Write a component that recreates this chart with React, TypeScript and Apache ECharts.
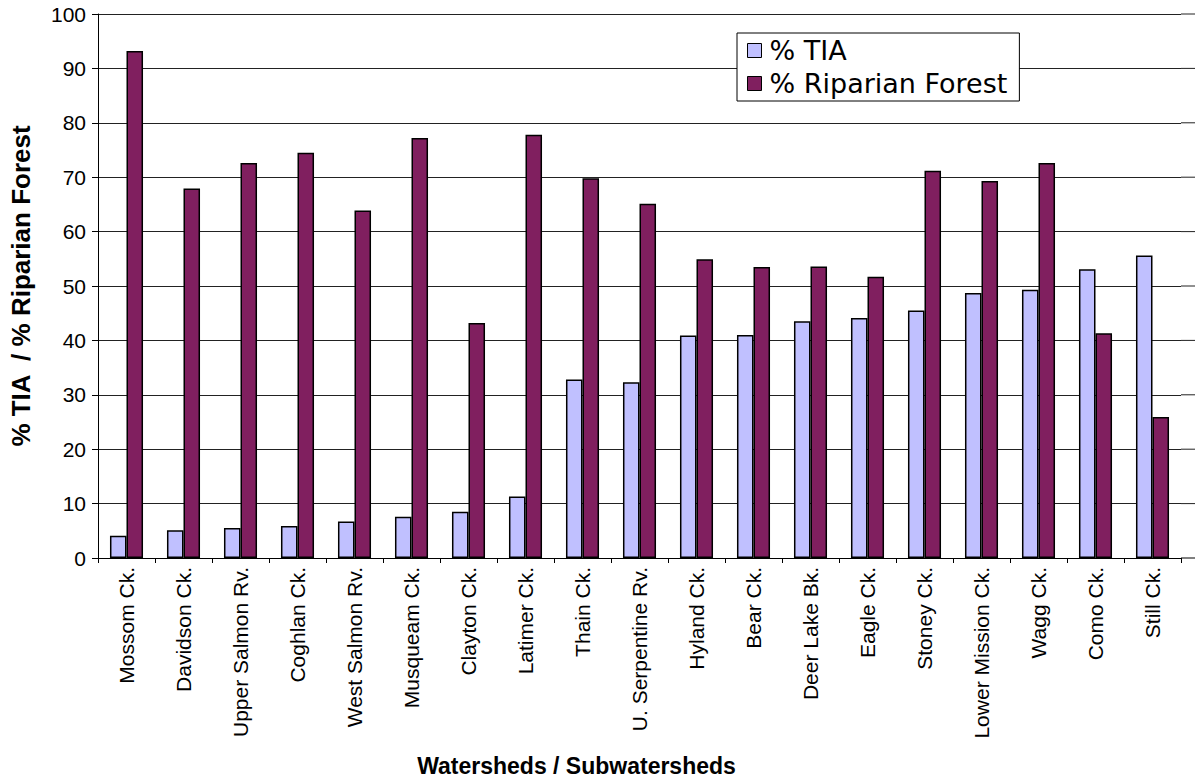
import React, { useEffect, useRef } from "react";
import * as echarts from "echarts";

// Watershed names along the category axis
const watersheds = [
  "Mossom Ck.",
  "Davidson Ck.",
  "Upper Salmon Rv.",
  "Coghlan Ck.",
  "West Salmon Rv.",
  "Musqueam Ck.",
  "Clayton Ck.",
  "Latimer Ck.",
  "Thain Ck.",
  "U. Serpentine Rv.",
  "Hyland Ck.",
  "Bear Ck.",
  "Deer Lake Bk.",
  "Eagle Ck.",
  "Stoney Ck.",
  "Lower Mission Ck.",
  "Wagg Ck.",
  "Como Ck.",
  "Still Ck.",
];

// Total impervious area (%)
const tiaPct = [4.1, 5.1, 5.5, 5.9, 6.7, 7.6, 8.5, 11.3, 32.8, 32.3, 40.9, 41.0, 43.5, 44.1, 45.5, 48.7, 49.3, 53.1, 55.6];

// Riparian forest cover (%)
const riparianPct = [93.2, 67.9, 72.6, 74.5, 63.9, 77.2, 43.2, 77.8, 69.8, 65.1, 54.9, 53.5, 53.6, 51.7, 71.2, 69.3, 72.6, 41.3, 25.9];

// Value-axis ticks
const yMin = 0;
const yMax = 100;
const yStep = 10;

const FONT = "'Liberation Sans', Arial, sans-serif";
const LEGEND_FONT = "'DejaVu Sans', 'Liberation Sans', sans-serif";

export default function App() {
  const ref = useRef<HTMLDivElement>(null);

  useEffect(() => {
    if (!ref.current) return;
    const chart = echarts.init(ref.current, undefined, { renderer: "svg" });

    const gridRight = 14;

    chart.setOption({
      animation: false,
      backgroundColor: "#ffffff",
      textStyle: { fontFamily: FONT, color: "#000" },
      grid: { left: 94, top: 14, right: gridRight, bottom: 222, containLabel: false },
      legend: {
        orient: "vertical",
        left: 737,
        top: 33,
        padding: [4, 12, 4, 10],
        itemGap: 6,
        itemWidth: 14,
        itemHeight: 14,
        backgroundColor: "#fff",
        borderColor: "#000",
        borderWidth: 1,
        borderRadius: 0,
        icon: "rect",
        itemStyle: { borderColor: "#000", borderWidth: 1 },
        textStyle: { fontSize: 27, fontFamily: LEGEND_FONT, color: "#000", padding: [0, 0, 0, 3] },
        data: ["% TIA", "% Riparian Forest"],
      },
      xAxis: {
        type: "category",
        data: watersheds,
        name: "Watersheds / Subwatersheds",
        nameLocation: "middle",
        nameGap: 196,
        nameTextStyle: {
          fontSize: 23,
          fontWeight: "bold",
          fontFamily: FONT,
          color: "#000",
          padding: [0, 126, 0, 0],
        },
        axisLine: { show: true, lineStyle: { color: "#000", width: 1 } },
        axisTick: { show: true, alignWithLabel: false, length: 5, inside: false, lineStyle: { color: "#000" } },
        axisLabel: {
          rotate: 90,
          interval: 0,
          margin: 9,
          fontSize: 21,
          fontFamily: FONT,
          color: "#000",
        },
        splitLine: { show: false },
      },
      yAxis: {
        type: "value",
        min: yMin,
        max: yMax,
        interval: yStep,
        name: "% TIA  / % Riparian Forest",
        nameLocation: "middle",
        nameGap: 64,
        nameRotate: 90,
        nameTextStyle: { fontSize: 26, fontWeight: "bold", fontFamily: FONT, color: "#000" },
        axisLine: { show: true, lineStyle: { color: "#000", width: 1 } },
        axisTick: { show: true, length: 6, inside: false, lineStyle: { color: "#000" } },
        axisLabel: { fontSize: 21, fontFamily: FONT, color: "#000", margin: 12 },
        splitLine: { show: true, lineStyle: { color: "#222", width: 1 } },
      },
      series: [
        {
          name: "% TIA",
          type: "bar",
          data: tiaPct,
          barGap: "0%",
          barCategoryGap: "42%",
          itemStyle: { color: "#C0C0FF", borderColor: "#000", borderWidth: 1.5 },
        },
        {
          name: "% Riparian Forest",
          type: "bar",
          data: riparianPct,
          barGap: "0%",
          barCategoryGap: "42%",
          itemStyle: { color: "#801F5F", borderColor: "#000", borderWidth: 1.5 },
        },
      ],
    });

    // The plot frame continues a little past the last category: extend
    // the gridlines and the baseline to the right edge of the chart.
    const width = chart.getWidth();
    const xEnd = width - gridRight;
    const ext: any[] = [];
    for (let v = yMin; v <= yMax; v += yStep) {
      const y = chart.convertToPixel({ yAxisIndex: 0 }, v) as number;
      ext.push({
        type: "line",
        shape: { x1: xEnd, y1: y, x2: width, y2: y },
        style: { stroke: v === yMin ? "#000" : "#222", lineWidth: 1 },
        z: 1,
      });
    }
    chart.setOption({ graphic: ext });

    return () => chart.dispose();
  }, []);

  return (
    <div
      ref={ref}
      style={{ position: "fixed", left: 0, top: 0, width: 1195, height: 782, background: "#fff" }}
    />
  );
}
